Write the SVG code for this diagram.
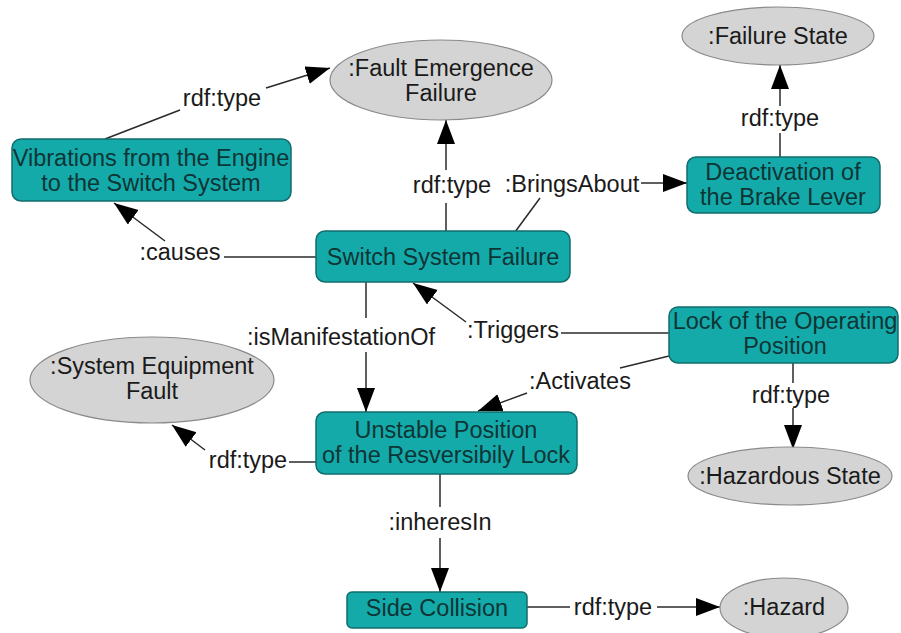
<svg xmlns="http://www.w3.org/2000/svg" width="901" height="633" viewBox="0 0 901 633">
<style>
text{font-family:"Liberation Sans",Arial,sans-serif;font-size:23.5px;text-anchor:middle}
.box{fill:#15aaaa;stroke:#126c6c;stroke-width:1.5}
.box-t{fill:#0e3535}
.ell{fill:#d4d4d4;stroke:#8a8a8a;stroke-width:1.2}
.ell-t{fill:#1a1a1a}
.lbl{fill:#1a1a1a}
.edge{stroke:#2a2a2a;stroke-width:1.5;fill:none}
</style>
<defs>
<marker id="arr" markerUnits="userSpaceOnUse" markerWidth="26" markerHeight="20" refX="24" refY="9" orient="auto">
<path d="M0,0 L24,9 L0,18 Z" fill="#000"/>
</marker>
</defs>
<rect width="901" height="633" fill="#fff"/>

<g id="connectors">
<line class="edge" x1="105" y1="139" x2="180" y2="110"/>
<line class="edge" x1="266" y1="88" x2="330" y2="68" marker-end="url(#arr)"/>
<line class="edge" x1="446" y1="231" x2="446" y2="203"/>
<line class="edge" x1="446" y1="170" x2="446" y2="120" marker-end="url(#arr)"/>
<line class="edge" x1="515" y1="232" x2="540" y2="198"/>
<line class="edge" x1="641" y1="183" x2="687" y2="183" marker-end="url(#arr)"/>
<line class="edge" x1="780" y1="157" x2="780" y2="133"/>
<line class="edge" x1="780" y1="106" x2="780" y2="65" marker-end="url(#arr)"/>
<line class="edge" x1="316" y1="257" x2="224" y2="257"/>
<line class="edge" x1="165" y1="241" x2="114" y2="203" marker-end="url(#arr)"/>
<line class="edge" x1="366" y1="282" x2="366" y2="318"/>
<line class="edge" x1="366" y1="352" x2="366" y2="412" marker-end="url(#arr)"/>
<line class="edge" x1="669" y1="333" x2="561" y2="333"/>
<line class="edge" x1="466" y1="322" x2="413" y2="283" marker-end="url(#arr)"/>
<line class="edge" x1="669" y1="356" x2="620" y2="368"/>
<line class="edge" x1="527" y1="393" x2="478" y2="411" marker-end="url(#arr)"/>
<line class="edge" x1="793" y1="363" x2="793" y2="383"/>
<line class="edge" x1="793" y1="408" x2="793" y2="449" marker-end="url(#arr)"/>
<line class="edge" x1="316" y1="462" x2="289" y2="462"/>
<line class="edge" x1="205" y1="450" x2="172" y2="425" marker-end="url(#arr)"/>
<line class="edge" x1="440" y1="474" x2="440" y2="507"/>
<line class="edge" x1="440" y1="538" x2="440" y2="592" marker-end="url(#arr)"/>
<line class="edge" x1="527" y1="607" x2="570" y2="607"/>
<line class="edge" x1="657" y1="607" x2="720" y2="607" marker-end="url(#arr)"/>
<text class="lbl" x="222" y="106">rdf:type</text>
<text class="lbl" x="452" y="193">rdf:type</text>
<text class="lbl" x="572" y="192">:BringsAbout</text>
<text class="lbl" x="780" y="126">rdf:type</text>
<text class="lbl" x="180" y="260">:causes</text>
<text class="lbl" x="341" y="345">:isManifestationOf</text>
<text class="lbl" x="513" y="338">:Triggers</text>
<text class="lbl" x="580" y="389">:Activates</text>
<text class="lbl" x="791" y="403">rdf:type</text>
<text class="lbl" x="248" y="468">rdf:type</text>
<text class="lbl" x="440" y="530">:inheresIn</text>
<text class="lbl" x="613" y="615">rdf:type</text>
</g>

<g id="fault-emergence-failure">
<ellipse class="ell" cx="441" cy="80" rx="111" ry="40"/>
<text class="ell-t" x="441" y="76">:Fault Emergence</text>
<text class="ell-t" x="441" y="101">Failure</text>
</g>
<g id="failure-state">
<ellipse class="ell" cx="778" cy="36" rx="96" ry="29"/>
<text class="ell-t" x="778" y="44">:Failure State</text>
</g>
<g id="vibrations">
<rect class="box" x="12" y="139" width="279" height="62" rx="9"/>
<text class="box-t" x="151" y="166">Vibrations from the Engine</text>
<text class="box-t" x="151" y="191">to the Switch System</text>
</g>
<g id="deactivation">
<rect class="box" x="687" y="157" width="193" height="56" rx="9"/>
<text class="box-t" x="783" y="180">Deactivation of</text>
<text class="box-t" x="783" y="205">the Brake Lever</text>
</g>
<g id="switch-system-failure">
<rect class="box" x="316" y="231" width="254" height="51" rx="9"/>
<text class="box-t" x="443" y="265">Switch System Failure</text>
</g>
<g id="lock-operating-position">
<rect class="box" x="669" y="307" width="229" height="56" rx="9"/>
<text class="box-t" x="785" y="329">Lock of the Operating</text>
<text class="box-t" x="785" y="354">Position</text>
</g>
<g id="system-equipment-fault">
<ellipse class="ell" cx="152" cy="380" rx="122" ry="43"/>
<text class="ell-t" x="152" y="374">:System Equipment</text>
<text class="ell-t" x="152" y="399">Fault</text>
</g>
<g id="unstable-position">
<rect class="box" x="316" y="412" width="261" height="62" rx="9"/>
<text class="box-t" x="446" y="438">Unstable Position</text>
<text class="box-t" x="446" y="463">of the Resversibily Lock</text>
</g>
<g id="hazardous-state">
<ellipse class="ell" cx="790" cy="476" rx="102" ry="29"/>
<text class="ell-t" x="790" y="484">:Hazardous State</text>
</g>
<g id="side-collision">
<rect class="box" x="347" y="592" width="180" height="36" rx="5"/>
<text class="box-t" x="437" y="616">Side Collision</text>
</g>
<g id="hazard">
<ellipse class="ell" cx="784" cy="608" rx="64" ry="30"/>
<text class="ell-t" x="784" y="615">:Hazard</text>
</g>
</svg>
